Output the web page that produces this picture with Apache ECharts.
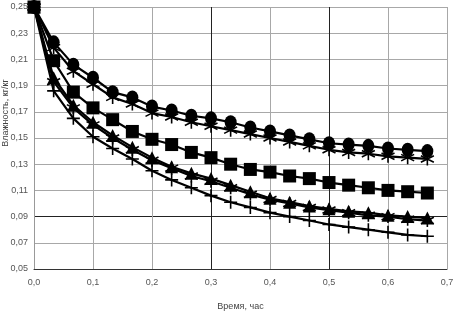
<!DOCTYPE html>
<html>
<head>
<meta charset="utf-8">
<script src="https://cdn.jsdelivr.net/npm/echarts@6/dist/echarts.min.js"></script>
<style>
    html, body { margin: 0; padding: 0; background: #fff; }
    #chart { width: 461px; height: 323px; }
</style>
</head>
<body>
<div id="chart"></div>
<script>
    // время, час (каждые 2 минуты)
    var time = [0, 0.0333, 0.0667, 0.1, 0.1333, 0.1667, 0.2, 0.2333, 0.2667, 0.3, 0.3333,
                0.3667, 0.4, 0.4333, 0.4667, 0.5, 0.5333, 0.5667, 0.6, 0.6333, 0.6667];
    // влажность, кг/кг
    var circles = [0.250, 0.223, 0.206, 0.196, 0.185, 0.181, 0.174, 0.171, 0.167, 0.165, 0.162,
                   0.158, 0.155, 0.152, 0.149, 0.146, 0.145, 0.144, 0.142, 0.141, 0.140];
    var stars1 = [0.250, 0.219, 0.201, 0.191, 0.181, 0.176, 0.169, 0.166, 0.162, 0.159, 0.156,
                  0.153, 0.150, 0.147, 0.144, 0.141, 0.139, 0.138, 0.136, 0.135, 0.134];
    var squares = [0.250, 0.209, 0.185, 0.173, 0.164, 0.155, 0.149, 0.145, 0.139, 0.135, 0.130,
                   0.126, 0.124, 0.121, 0.119, 0.116, 0.114, 0.112, 0.110, 0.109, 0.108];
    var triangles = [0.250, 0.196, 0.175, 0.162, 0.152, 0.143, 0.135, 0.128, 0.123, 0.119, 0.114,
                     0.109, 0.104, 0.101, 0.098, 0.096, 0.094, 0.093, 0.091, 0.090, 0.089];
    var stars2 = [0.250, 0.193, 0.173, 0.160, 0.150, 0.141, 0.133, 0.127, 0.121, 0.117, 0.112,
                  0.107, 0.103, 0.100, 0.097, 0.095, 0.093, 0.091, 0.090, 0.088, 0.087];
    var pluses = [0.250, 0.186, 0.165, 0.151, 0.142, 0.134, 0.125, 0.118, 0.112, 0.106, 0.101,
                  0.097, 0.093, 0.090, 0.087, 0.084, 0.082, 0.080, 0.078, 0.076, 0.075];

    var xTicks = [0, 0.1, 0.2, 0.3, 0.4, 0.5, 0.6, 0.7];
    var yTicks = [0.05, 0.07, 0.09, 0.11, 0.13, 0.15, 0.17, 0.19, 0.21, 0.23, 0.25];

    function pairs(ys) {
        return ys.map(function (v, i) { return [time[i], v]; });
    }
    function comma(v, digits) {
        return v.toFixed(digits).replace('.', ',');
    }

    // сетка: шаг 0.01, линии через одну (0.05 не кратно 0.02)
    var yGrid = [];
    for (var i = 0; i <= 20; i++) {
        if (i % 2) yGrid.push('rgba(0,0,0,0)');
        else if (i === 4) yGrid.push('#222');
        else yGrid.push('#a8a8a8');
    }
    var xGrid = ['#a8a8a8', '#a8a8a8', '#a8a8a8', '#222', '#a8a8a8', '#222', '#a8a8a8', '#a8a8a8'];

    var asterisk = 'path://M0,-6L0,6M-5.2,-3L5.2,3M-5.2,3L5.2,-3';
    var plus = 'path://M0,-6L0,6M-6,0L6,0';

    function line(name, ys, symbol, size, stroke) {
        return {
            name: name,
            type: 'line',
            data: pairs(ys),
            symbol: symbol,
            symbolSize: size,
            showSymbol: true,
            lineStyle: { color: '#000', width: 2.2 },
            itemStyle: stroke
                ? { color: '#000', borderColor: '#000', borderWidth: 1.6 }
                : { color: '#000', borderWidth: 0 },
            emphasis: { disabled: true },
            animation: false
        };
    }

    var myChart = echarts.init(document.getElementById('chart'));

    myChart.setOption({
        backgroundColor: '#fff',
        animation: false,
        grid: { left: 34, right: 14, top: 7, bottom: 54 },
        xAxis: {
            type: 'value',
            min: 0,
            max: 0.7,
            interval: 0.1,
            name: 'Время, час',
            nameLocation: 'middle',
            nameGap: 33,
            nameTextStyle: { fontFamily: 'Liberation Sans', fontSize: 9, color: '#444' },
            axisLine: { lineStyle: { color: '#333', width: 1 } },
            axisTick: { show: false },
            axisLabel: {
                fontFamily: 'Liberation Sans', fontSize: 9, color: '#555', margin: 9,
                formatter: function (v) { return comma(v, 1); }
            },
            splitLine: { show: true, lineStyle: { color: xGrid, width: 1 } }
        },
        yAxis: {
            type: 'value',
            min: 0.05,
            max: 0.25,
            interval: 0.01,
            axisLine: { show: true, lineStyle: { color: '#999', width: 1 } },
            axisTick: { show: false },
            axisLabel: {
                fontFamily: 'Liberation Sans', fontSize: 9, color: '#555', margin: 6,
                formatter: function (v) {
                    var k = Math.round(v * 100);
                    return k % 2 ? comma(k / 100, 2) : '';
                }
            },
            splitLine: { show: true, lineStyle: { color: yGrid, width: 1 } }
        },
        graphic: [{
            type: 'text',
            x: 6,
            y: 113,
            rotation: Math.PI / 2,
            style: {
                text: 'Влажность, кг/кг',
                fontFamily: 'Liberation Sans',
                fontSize: 9,
                fill: '#444',
                align: 'center',
                verticalAlign: 'middle'
            }
        }],
        series: [
            line('circles', circles, 'circle', [12, 14], false),
            line('stars1', stars1, asterisk, 13, true),
            line('triangles', triangles, 'triangle', 13, false),
            line('stars2', stars2, asterisk, 13, true),
            line('pluses', pluses, plus, 13, true),
            line('squares', squares, 'rect', 13, false)
        ]
    });
</script>
</body>
</html>
